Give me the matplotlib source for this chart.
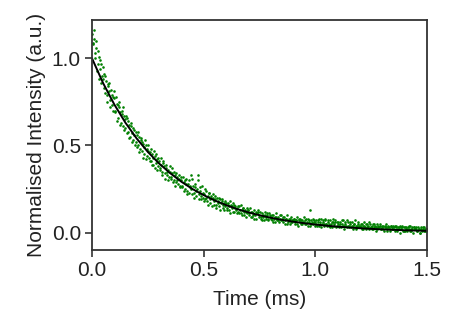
import numpy as np
import matplotlib
matplotlib.use("Agg")
import matplotlib.pyplot as plt

plt.rcParams['font.family'] = ['Liberation Sans', 'DejaVu Sans']

dt = 0.005
intensity_a = [
    1.14, 1.08, 1.11, 1.03, 1.06, 0.97, 1.01, 0.94, 0.97, 0.90,
    0.88, 0.83, 0.90, 0.79, 0.85, 0.81, 0.76, 0.82, 0.73, 0.78,
    0.77, 0.70, 0.74, 0.66, 0.72, 0.69, 0.63, 0.70, 0.61, 0.67,
    0.60, 0.66, 0.58, 0.62, 0.55, 0.61, 0.57, 0.53, 0.59, 0.52,
    0.56, 0.50, 0.55, 0.48, 0.53, 0.47, 0.51, 0.45, 0.50, 0.44,
    0.47, 0.43, 0.46, 0.41, 0.45, 0.39, 0.44, 0.40, 0.42, 0.38,
    0.41, 0.36, 0.39, 0.35, 0.40, 0.34, 0.37, 0.33, 0.36, 0.32,
    0.35, 0.31, 0.34, 0.30, 0.33, 0.29, 0.32, 0.28, 0.31, 0.27,
    0.30, 0.26, 0.29, 0.25, 0.31, 0.24, 0.28, 0.23, 0.27, 0.25,
    0.31, 0.23, 0.26, 0.21, 0.25, 0.33, 0.22, 0.24, 0.19, 0.23,
    0.22, 0.19, 0.24, 0.18, 0.21, 0.23, 0.17, 0.20, 0.22, 0.16,
    0.19, 0.16, 0.20, 0.17, 0.15, 0.19, 0.18, 0.14, 0.17, 0.15,
    0.17, 0.14, 0.16, 0.13, 0.18, 0.15, 0.12, 0.16, 0.14, 0.13,
    0.14, 0.12, 0.15, 0.11, 0.13, 0.14, 0.10, 0.13, 0.12, 0.11,
    0.13, 0.10, 0.12, 0.09, 0.11, 0.13, 0.10, 0.08, 0.11, 0.12,
    0.10, 0.08, 0.11, 0.09, 0.07, 0.10, 0.09, 0.11, 0.08, 0.09,
    0.09, 0.07, 0.10, 0.08, 0.06, 0.09, 0.08, 0.07, 0.10, 0.07,
    0.08, 0.06, 0.09, 0.07, 0.08, 0.05, 0.07, 0.08, 0.06, 0.07,
    0.07, 0.08, 0.06, 0.07, 0.05, 0.08, 0.06, 0.07, 0.05, 0.06,
    0.06, 0.07, 0.05, 0.08, 0.06, 0.04, 0.07, 0.06, 0.05, 0.07,
    0.06, 0.05, 0.07, 0.04, 0.06, 0.08, 0.05, 0.06, 0.04, 0.07,
    0.05, 0.06, 0.04, 0.07, 0.05, 0.03, 0.06, 0.05, 0.07, 0.04,
    0.05, 0.04, 0.06, 0.03, 0.05, 0.07, 0.04, 0.05, 0.03, 0.06,
    0.04, 0.05, 0.03, 0.06, 0.04, 0.05, 0.02, 0.04, 0.06, 0.03,
    0.04, 0.03, 0.05, 0.02, 0.04, 0.05, 0.03, 0.04, 0.02, 0.05,
    0.03, 0.04, 0.02, 0.05, 0.03, 0.02, 0.04, 0.03, 0.05, 0.02,
    0.03, 0.02, 0.04, 0.03, 0.01, 0.04, 0.03, 0.02, 0.04, 0.03,
    0.02, 0.04, 0.03, 0.01, 0.03, 0.02, 0.04, 0.02, 0.03, 0.01,
    0.03, 0.02, 0.01, 0.03, 0.02, 0.04, 0.01, 0.02, 0.03, 0.02,
    0.02, 0.01, 0.03, 0.02, 0.00, 0.02, 0.03, 0.01, 0.02, 0.01,
    0.02,
]
intensity_b = [
    1.09, 1.16, 1.00, 1.10, 0.93, 1.04, 0.88, 0.99, 0.86, 0.95,
    0.91, 0.80, 0.87, 0.75, 0.84, 0.86, 0.72, 0.79, 0.70, 0.81,
    0.69, 0.78, 0.64, 0.73, 0.75, 0.62, 0.68, 0.72, 0.59, 0.65,
    0.67, 0.57, 0.64, 0.54, 0.63, 0.52, 0.60, 0.56, 0.50, 0.58,
    0.49, 0.58, 0.46, 0.54, 0.52, 0.43, 0.49, 0.53, 0.42, 0.48,
    0.50, 0.41, 0.48, 0.39, 0.43, 0.47, 0.37, 0.45, 0.36, 0.43,
    0.37, 0.43, 0.33, 0.41, 0.38, 0.31, 0.39, 0.35, 0.30, 0.38,
    0.32, 0.37, 0.29, 0.35, 0.27, 0.34, 0.30, 0.33, 0.26, 0.32,
    0.27, 0.32, 0.24, 0.30, 0.28, 0.22, 0.30, 0.26, 0.33, 0.22,
    0.27, 0.20, 0.28, 0.24, 0.30, 0.19, 0.26, 0.21, 0.27, 0.20,
    0.18, 0.25, 0.20, 0.16, 0.23, 0.19, 0.21, 0.15, 0.20, 0.18,
    0.21, 0.14, 0.18, 0.20, 0.13, 0.17, 0.19, 0.16, 0.13, 0.18,
    0.13, 0.17, 0.15, 0.11, 0.16, 0.14, 0.17, 0.12, 0.15, 0.11,
    0.15, 0.11, 0.13, 0.16, 0.10, 0.14, 0.12, 0.09, 0.14, 0.13,
    0.11, 0.14, 0.09, 0.12, 0.10, 0.08, 0.12, 0.11, 0.13, 0.09,
    0.12, 0.09, 0.07, 0.10, 0.12, 0.08, 0.10, 0.07, 0.11, 0.10,
    0.08, 0.10, 0.06, 0.09, 0.11, 0.07, 0.09, 0.06, 0.08, 0.10,
    0.07, 0.09, 0.05, 0.08, 0.10, 0.06, 0.08, 0.05, 0.09, 0.06,
    0.08, 0.05, 0.07, 0.09, 0.04, 0.07, 0.08, 0.05, 0.07, 0.09,
    0.05, 0.08, 0.06, 0.04, 0.07, 0.13, 0.05, 0.08, 0.06, 0.04,
    0.07, 0.04, 0.06, 0.08, 0.05, 0.03, 0.07, 0.05, 0.08, 0.05,
    0.04, 0.07, 0.05, 0.03, 0.06, 0.08, 0.04, 0.06, 0.03, 0.06,
    0.06, 0.03, 0.05, 0.07, 0.04, 0.02, 0.06, 0.04, 0.07, 0.04,
    0.03, 0.06, 0.04, 0.02, 0.05, 0.07, 0.04, 0.03, 0.05, 0.04,
    0.05, 0.02, 0.04, 0.06, 0.03, 0.02, 0.05, 0.03, 0.06, 0.03,
    0.02, 0.05, 0.03, 0.04, 0.01, 0.05, 0.03, 0.04, 0.02, 0.04,
    0.04, 0.01, 0.03, 0.05, 0.02, 0.03, 0.01, 0.04, 0.02, 0.04,
    0.03, 0.01, 0.04, 0.02, 0.03, 0.00, 0.03, 0.04, 0.01, 0.03,
    0.01, 0.03, 0.02, 0.04, 0.01, 0.02, 0.03, 0.00, 0.03, 0.02,
    0.03, 0.01, 0.02, 0.00, 0.03, 0.01, 0.02, 0.03, 0.01, 0.02,
]
time_a = np.arange(len(intensity_a)) * dt
time_b = np.arange(len(intensity_b)) * dt + dt / 2

# fitted curve, read every 0.05 ms
fit_time = [0.00, 0.05, 0.10, 0.15, 0.20, 0.25, 0.30, 0.35, 0.40, 0.45,
            0.50, 0.55, 0.60, 0.65, 0.70, 0.75, 0.80, 0.85, 0.90, 0.95,
            1.00, 1.05, 1.10, 1.15, 1.20, 1.25, 1.30, 1.35, 1.40, 1.45, 1.50]
fit_value = [1.000, 0.857, 0.735, 0.630, 0.540, 0.463, 0.397, 0.341, 0.292, 0.250,
             0.215, 0.184, 0.158, 0.135, 0.116, 0.0995, 0.0853, 0.0732, 0.0627, 0.0538,
             0.0461, 0.0395, 0.0339, 0.0291, 0.0249, 0.0214, 0.0183, 0.0157, 0.0135, 0.0115, 0.0099]

fig = plt.figure(figsize=(4.63, 3.31), dpi=100)
ax = fig.add_axes([0.1987, 0.2447, 0.7235, 0.6949])

for t, v in [(time_a, intensity_a), (time_b, intensity_b)]:
    ax.scatter(t, v, s=3.5, color='#008000', marker='o', linewidths=0)
ax.plot(fit_time, fit_value, color='black', lw=1.4)

ax.set_xlim(0, 1.5)
ax.set_ylim(-0.10, 1.22)
ax.set_xticks([0.0, 0.5, 1.0, 1.5])
ax.set_yticks([0.0, 0.5, 1.0])
ax.set_xlabel('Time (ms)', fontsize=15, color='#222222', labelpad=7)
ax.set_ylabel('Normalised Intensity (a.u.)', fontsize=15, color='#222222', labelpad=4)

for sp in ax.spines.values():
    sp.set_color('#333333')
    sp.set_linewidth(1.3)
ax.tick_params(direction='out', length=5, width=1.2, color='#333333',
               labelsize=15, labelcolor='#222222', pad=3)

fig.savefig('out.png', dpi=100)
